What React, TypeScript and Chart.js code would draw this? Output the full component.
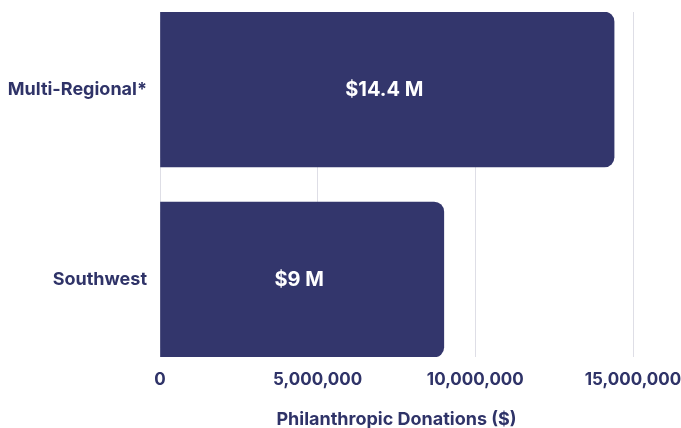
import React, { useEffect, useRef } from "react";
import { Chart, registerables } from "chart.js";

Chart.register(...registerables);

const categories = ["Multi-Regional*", "Southwest"];
const donations = [14400000, 9000000];
const valueLabels = ["$14.4 M", "$9 M"];
const xTicks = [0, 5000000, 10000000, 15000000];

const NAVY = "#33366c";
const TEXT = "#2f3368";
const GRID = "#dedee6";
const FONT = "Inter, 'Noto Sans', sans-serif";

const barLabelPlugin = {
  id: "barLabels",
  afterDatasetsDraw(chart: any) {
    const meta = chart.getDatasetMeta(0);
    const ctx = chart.ctx;
    ctx.save();
    ctx.fillStyle = "#ffffff";
    ctx.font = `bold 20px ${FONT}`;
    ctx.textAlign = "center";
    ctx.textBaseline = "middle";
    meta.data.forEach((bar: any, i: number) => {
      const p = bar.getProps(["x", "y", "base"], true);
      ctx.fillText(valueLabels[i], (p.x + p.base) / 2 - 3, p.y);
    });
    ctx.restore();
  },
};

export default function App() {
  const ref = useRef<HTMLCanvasElement>(null);

  useEffect(() => {
    document.body.style.margin = "0";
    if (!ref.current) return;
    const chart = new Chart(ref.current, {
      type: "bar",
      data: {
        labels: categories,
        datasets: [
          {
            data: donations,
            backgroundColor: NAVY,
            borderRadius: 10,
            borderSkipped: "start",
            barThickness: 155,
          },
        ],
      },
      options: {
        indexAxis: "y",
        animation: false,
        responsive: true,
        maintainAspectRatio: false,
        layout: { padding: { top: 12, right: 48, left: 0, bottom: 0 } },
        plugins: {
          legend: { display: false },
          tooltip: { enabled: false },
        },
        scales: {
          x: {
            min: 0,
            max: 15000000,
            afterBuildTicks: (scale: any) => {
              scale.ticks = xTicks.map((v) => ({ value: v }));
            },
            afterFit: (scale: any) => {
              scale.height = 71;
              scale.paddingLeft = 0;
              scale.paddingRight = 0;
            },
            grid: { color: GRID, lineWidth: 1, drawTicks: false },
            border: { display: false },
            ticks: {
              padding: 13,
              color: TEXT,
              font: { family: FONT, size: 17, weight: "bold" },
              maxRotation: 0,
              callback: (v: any) => Number(v).toLocaleString("en-US"),
            },
            title: {
              display: true,
              text: "Philanthropic Donations ($)",
              color: TEXT,
              font: { family: FONT, size: 18, weight: "bold" },
              padding: { top: 0, bottom: -2 },
            },
          },
          y: {
            afterBuildTicks: (scale: any) => {
              scale._startValue = -0.408;
              scale._valueRange = 1.816;
            },
            afterFit: (scale: any) => {
              scale.width = 160;
              scale.paddingTop = 0;
              scale.paddingBottom = 0;
            },
            grid: { display: false, drawTicks: false },
            border: { display: false },
            ticks: {
              padding: 13,
              color: TEXT,
              font: { family: FONT, size: 18, weight: "bold" },
            },
          },
        },
      },
      plugins: [barLabelPlugin],
    });
    return () => chart.destroy();
  }, []);

  return (
    <div style={{ width: 681, height: 428, position: "relative" }}>
      <canvas ref={ref} />
    </div>
  );
}
